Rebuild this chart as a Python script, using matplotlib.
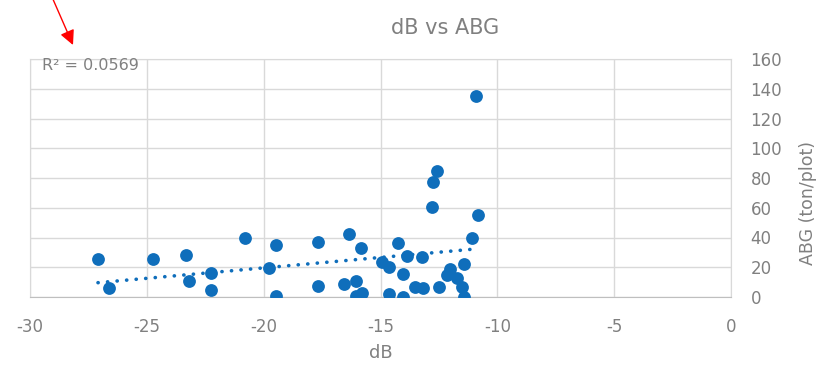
import matplotlib
matplotlib.use("Agg")
import matplotlib.pyplot as plt
import numpy as np

# Data
dB = [-27.09, -26.62, -24.74, -23.32, -23.2, -22.25, -22.25, -20.8, -19.77, -19.47,
      -19.47, -17.68, -17.68, -16.56, -16.35, -16.05, -16.05, -15.84, -15.79,
      -14.94, -14.64, -14.25, -14.04, -14.64, -14.04, -13.87, -13.53, -13.23, -13.18,
      -12.8, -12.76, -12.58, -12.5, -12.16, -12.03, -11.73, -11.51, -11.43, -11.43,
      -11.09, -10.83, -10.92]
ABG = [25.5, 6.0, 25.5, 28.2, 10.8, 16.1, 4.7, 39.7, 19.5, 35.0,
       0.7, 37.0, 7.4, 8.7, 42.4, 10.8, 0.7, 33.0, 2.7,
       23.5, 20.2, 36.3, 15.5, 2.0, 0.0, 27.6, 6.7, 26.9, 6.1,
       60.5, 77.3, 84.7, 6.7, 14.8, 18.8, 12.8, 6.7, 0.0, 22.2,
       39.7, 55.1, 135.1]
x_ticks = [-30, -25, -20, -15, -10, -5, 0]
y_ticks = [0, 20, 40, 60, 80, 100, 120, 140, 160]
title = "dB vs ABG"
r2_text = "R² = 0.0569"

plt.rcParams['font.family'] = ['DejaVu Sans']
plt.rcParams['axes.unicode_minus'] = False
txt = '#808080'
grid = '#D9D9D9'
blue = '#0F6EBB'

fig = plt.figure(figsize=(8.23, 3.67), dpi=100)
ax = fig.add_axes([30/823, 70/367, 701/823, 238/367])

ax.set_xlim(-30, 0)
ax.set_ylim(0, 160)
ax.set_xticks(x_ticks)
ax.set_yticks(y_ticks)
ax.grid(True, color=grid, lw=1)
ax.set_axisbelow(True)
for s in ['left', 'top', 'right']:
    ax.spines[s].set_color(grid)
ax.spines['bottom'].set_color('#BFBFBF')
ax.yaxis.tick_right()
ax.tick_params(axis='both', length=0, labelsize=12, labelcolor=txt)
ax.tick_params(axis='x', pad=15)
ax.tick_params(axis='y', pad=14)

ax.scatter(dB, ABG, s=85, color=blue, zorder=3, linewidths=0)

xa = np.array(dB); ya = np.array(ABG)
m, b = np.polyfit(xa, ya, 1)
xs = np.array([xa.min(), xa.max()])
ax.plot(xs, m*xs + b, color=blue, lw=2.6, linestyle=(0, (0.05, 2.6)),
        dash_capstyle='round', zorder=2)

ax.set_xlabel('dB', fontsize=13, color=txt, labelpad=6)
ax.set_ylabel('ABG (ton/plot)', fontsize=12.5, color=txt)
ax.yaxis.set_label_position('right')
ax.yaxis.set_label_coords(1.097, 0.395)

fig.text(445/823, 1 - 28/367, title, ha='center', va='center', fontsize=15, color=txt)
fig.text(42/823, 1 - 66/367, r2_text, ha='left', va='center', fontsize=11.5, color=txt)

ax.annotate('', xy=(73, 367-45), xycoords='figure pixels',
            xytext=(52, 370), textcoords='figure pixels',
            arrowprops=dict(arrowstyle='-|>', color='red', lw=1, mutation_scale=22,
                            shrinkA=0, shrinkB=0))

fig.savefig('out.png', dpi=100)
